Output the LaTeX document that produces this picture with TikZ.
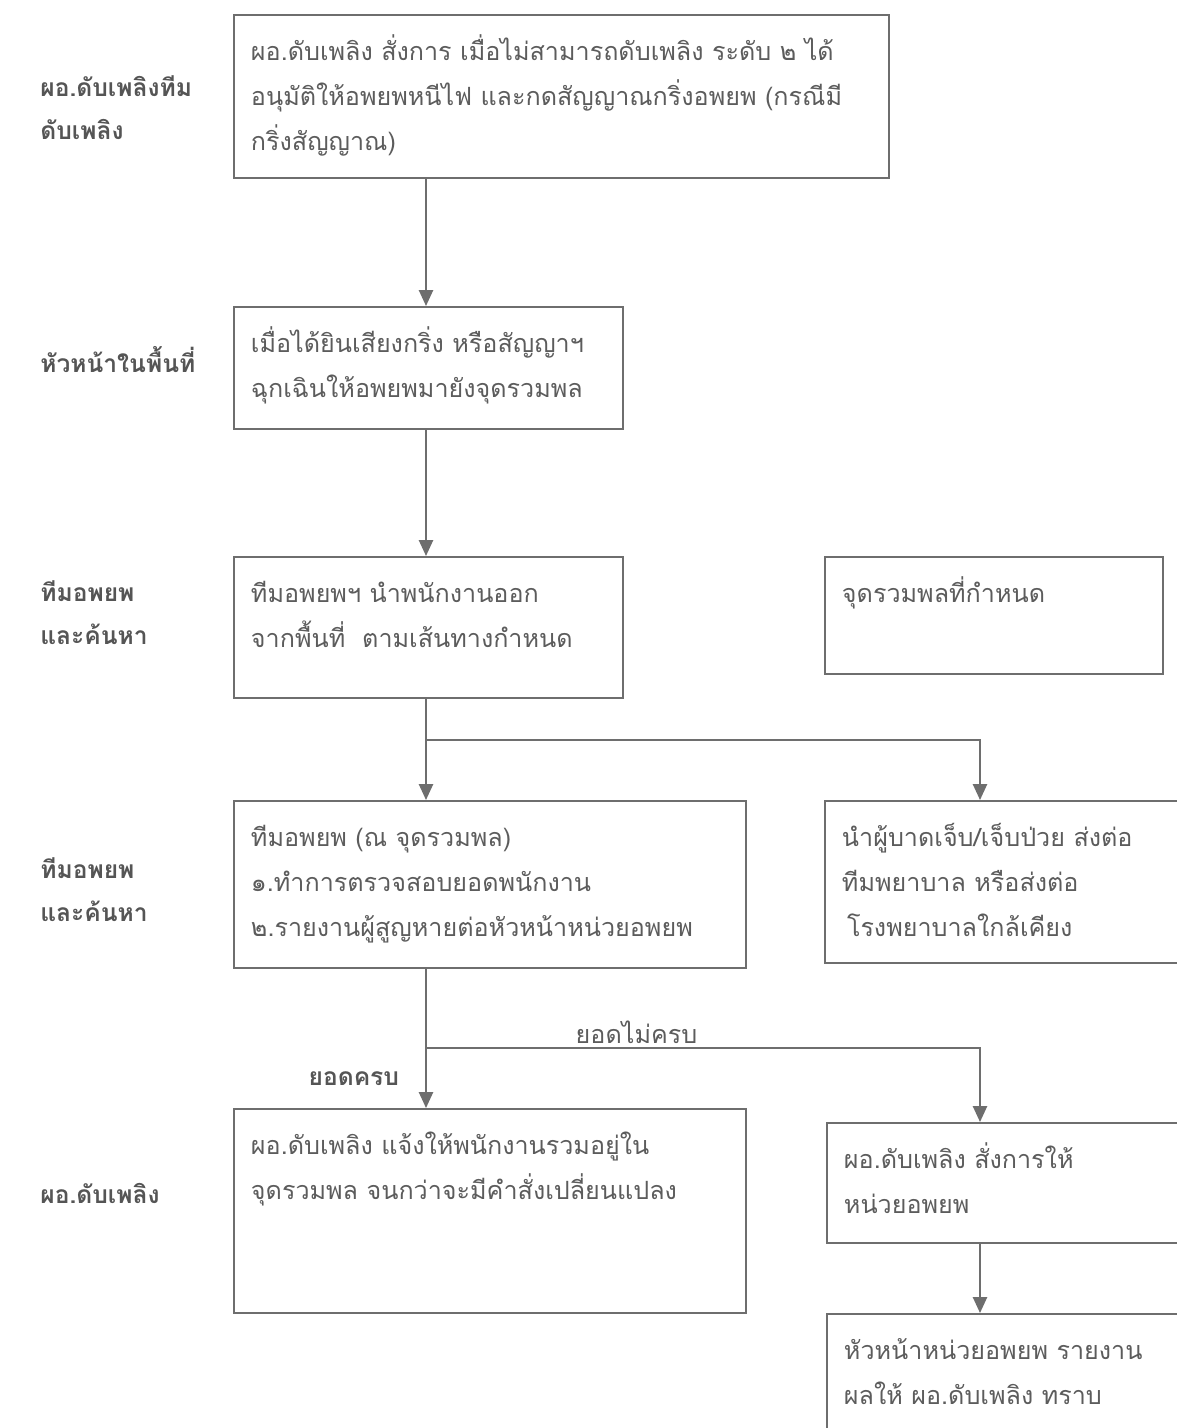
\documentclass[tikz,border=0pt]{standalone}
\usepackage{fontspec}
\newfontfamily\thai[Script=Thai]{Loma}
\usetikzlibrary{arrows.meta,positioning,calc}
\definecolor{ln}{HTML}{6E6E6E}
\definecolor{tx}{HTML}{5C5C5C}
\definecolor{lb}{HTML}{555555}
\newcommand{\bt}[3]{\parbox[c][\dimexpr#2-0.56cm][t]{\dimexpr#1-0.68cm}{\begin{tabular}[t]{@{}l@{}}#3\end{tabular}}}

\begin{document}
\begin{tikzpicture}[box/.style={draw=ln, line width=1.1pt, anchor=north west, inner xsep=0.34cm, inner ysep=0.28cm, text=tx, font=\thai\fontsize{14.3}{25.6}\selectfont},
  lbl/.style={anchor=west, align=left, inner sep=0pt, text=lb, font=\thai\bfseries\fontsize{14}{24.5}\selectfont},
  arr/.style={draw=ln, line width=1.1pt, -{Triangle[length=9pt,width=8pt]}}]
\useasboundingbox (0,0) rectangle (23.52,-28.56);
% boxes
\node[box] (b1) at (4.66,-0.28) {\bt{13.1cm}{3.26cm}{ผอ.ดับเพลิง สั่งการ เมื่อไม่สามารถดับเพลิง ระดับ ๒ ได้\\อนุมัติให้อพยพหนีไฟ และกดสัญญาณกริ่งอพยพ (กรณีมี\\กริ่งสัญญาณ)}};
\node[box] (b2) at (4.66,-6.12) {\bt{7.78cm}{2.44cm}{เมื่อได้ยินเสียงกริ่ง หรือสัญญาฯ\\ฉุกเฉินให้อพยพมายังจุดรวมพล}};
\node[box] (b3) at (4.66,-11.12) {\bt{7.78cm}{2.82cm}{ทีมอพยพฯ นำพนักงานออก\\จากพื้นที่~ ตามเส้นทางกำหนด}};
\node[box] (b4) at (16.48,-11.12) {\bt{6.76cm}{2.34cm}{จุดรวมพลที่กำหนด}};
\node[box] (b5) at (4.66,-16.0) {\bt{10.24cm}{3.34cm}{ทีมอพยพ (ณ จุดรวมพล)\\๑.ทำการตรวจสอบยอดพนักงาน\\๒.รายงานผู้สูญหายต่อหัวหน้าหน่วยอพยพ}};
\node[box] (b6) at (16.48,-16.0) {\bt{7.3cm}{3.24cm}{นำผู้บาดเจ็บ/เจ็บป่วย ส่งต่อ\\ทีมพยาบาล หรือส่งต่อ\\\hspace*{0.2em}โรงพยาบาลใกล้เคียง}};
\node[box] (b7) at (4.66,-22.16) {\bt{10.24cm}{4.08cm}{ผอ.ดับเพลิง แจ้งให้พนักงานรวมอยู่ใน\\จุดรวมพล จนกว่าจะมีคำสั่งเปลี่ยนแปลง}};
\node[box] (b8) at (16.52,-22.44) {\bt{7.3cm}{2.4cm}{ผอ.ดับเพลิง สั่งการให้\\หน่วยอพยพ}};
\node[box] (b9) at (16.52,-26.26) {\bt{7.3cm}{2.8cm}{หัวหน้าหน่วยอพยพ รายงาน\\ผลให้ ผอ.ดับเพลิง ทราบ}};
% row labels
\node[lbl] (l1) at (0.8,-2.16) {ผอ.ดับเพลิงทีม\\ดับเพลิง};
\node[lbl] (l2) at (0.8,-7.2) {หัวหน้าในพื้นที่};
\node[lbl] (l3) at (0.8,-12.25) {ทีมอพยพ\\และค้นหา};
\node[lbl] (l4) at (0.8,-17.8) {ทีมอพยพ\\และค้นหา};
\node[lbl] (l5) at (0.8,-23.86) {ผอ.ดับเพลิง};
% arrows
\coordinate (lx) at (8.52,0);
\coordinate (rx) at (19.6,0);
\coordinate (j1) at (8.52,-14.8);
\coordinate (j2) at (8.52,-20.96);
\draw[arr] (b1.south -| lx) -- (b2.north -| lx);
\draw[arr] (b2.south -| lx) -- (b3.north -| lx);
\draw[arr] (b3.south -| lx) -- (b5.north -| lx);
\draw[arr] (j1) -| (b6.north -| rx);
\draw[arr] (b5.south -| lx) -- node[lbl, pos=0.79, anchor=east, xshift=-0.52cm] {ยอดครบ} (b7.north -| lx);
\draw[arr] (j2) -| node[pos=0.19, anchor=base, yshift=0.1cm, text=tx, font=\thai\fontsize{14.3}{20}\selectfont] {ยอดไม่ครบ} (b8.north -| rx);
\draw[arr] (b8.south -| rx) -- (b9.north -| rx);
\end{tikzpicture}
\end{document}
